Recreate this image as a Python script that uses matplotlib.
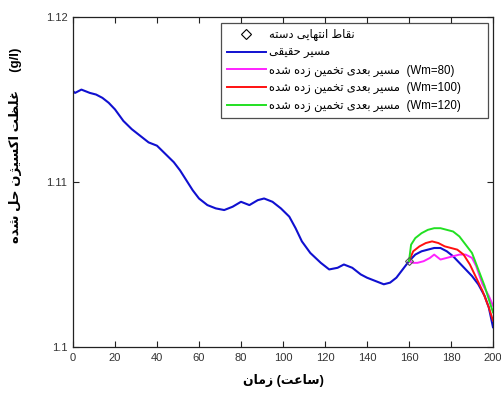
import matplotlib

matplotlib.use("Agg")
import matplotlib.pyplot as plt
from matplotlib.lines import Line2D

# ---- data -------------------------------------------------------------
TIME_TRUE = [0, 1, 4, 8, 11, 14, 17, 20, 24, 28, 32, 36, 40, 44, 48, 51, 54, 57,
             60, 64, 68, 72, 76, 80, 84, 88, 91, 95, 99, 103, 106, 109, 113, 118,
             122, 126, 129, 133, 137, 140, 144, 148, 151, 154, 157, 160, 163, 166,
             169, 172, 175, 178, 181, 184, 187, 190, 193, 196, 198, 200]
DO_TRUE = [1.1155, 1.1154, 1.1156, 1.1154, 1.1153, 1.1151, 1.1148, 1.1144, 1.1137,
           1.1132, 1.1128, 1.1124, 1.1122, 1.1117, 1.1112, 1.1107, 1.1101, 1.1095,
           1.1090, 1.1086, 1.1084, 1.1083, 1.1085, 1.1088, 1.1086, 1.1089, 1.1090,
           1.1088, 1.1084, 1.1079, 1.1072, 1.1064, 1.1057, 1.1051, 1.1047, 1.1048,
           1.1050, 1.1048, 1.1044, 1.1042, 1.1040, 1.1038, 1.1039, 1.1042, 1.1047,
           1.1052, 1.1056, 1.1058, 1.1059, 1.1060, 1.1060, 1.1058, 1.1055, 1.1051,
           1.1047, 1.1043, 1.1038, 1.1031, 1.1024, 1.1012]

TIME_WM80 = [160, 162, 164, 167, 170, 172, 175, 178, 181, 184, 187, 190, 192, 195, 198, 200]
DO_WM80 = [1.1052, 1.1051, 1.1051, 1.1052, 1.1054, 1.1056, 1.1053, 1.1054, 1.1055,
           1.1056, 1.1056, 1.1054, 1.1049, 1.1038, 1.1031, 1.1025]

TIME_WM100 = [160, 162, 165, 168, 171, 174, 177, 180, 183, 186, 189, 192, 195, 198, 200]
DO_WM100 = [1.1052, 1.1058, 1.1061, 1.1063, 1.1064, 1.1063, 1.1061, 1.1060, 1.1059,
            1.1056, 1.1050, 1.1042, 1.1034, 1.1024, 1.1016]

TIME_WM120 = [160, 161, 163, 166, 169, 172, 175, 178, 181, 184, 187, 190, 193, 196, 198, 200]
DO_WM120 = [1.1052, 1.1062, 1.1066, 1.1069, 1.1071, 1.1072, 1.1072, 1.1071, 1.1070,
            1.1067, 1.1062, 1.1057, 1.1047, 1.1037, 1.1029, 1.1021]

BATCH_END_TIME = [160]
BATCH_END_DO = [1.1052]

X_TICKS = [0, 20, 40, 60, 80, 100, 120, 140, 160, 180, 200]
Y_TICKS = [1.10, 1.11, 1.12]
Y_TICK_LABELS = ["1.1", "1.11", "1.12"]

LABEL_END = "نقاط انتهایی دسته"
LABEL_TRUE = "مسیر حقیقی"
LABEL_NEXT = "مسیر بعدی تخمین زده شده"
X_LABEL_WORD = "زمان"
X_LABEL_UNIT = "ساعت"
Y_LABEL = "غلظت اکسیژن حل شده"

BLUE = "#1010d0"
MAGENTA = "#ff22ff"
RED = "#ff1010"
GREEN = "#22e022"

# ---- minimal Persian shaping (matplotlib has no bidi / joining) -------
# forms: isolated, final, initial, medial
DUAL = {
    "ب": (0xFE8F, 0xFE90, 0xFE91, 0xFE92), "ت": (0xFE95, 0xFE96, 0xFE97, 0xFE98),
    "ج": (0xFE9D, 0xFE9E, 0xFE9F, 0xFEA0), "ح": (0xFEA1, 0xFEA2, 0xFEA3, 0xFEA4),
    "خ": (0xFEA5, 0xFEA6, 0xFEA7, 0xFEA8), "س": (0xFEB1, 0xFEB2, 0xFEB3, 0xFEB4),
    "ش": (0xFEB5, 0xFEB6, 0xFEB7, 0xFEB8), "ط": (0xFEC1, 0xFEC2, 0xFEC3, 0xFEC4),
    "ظ": (0xFEC5, 0xFEC6, 0xFEC7, 0xFEC8), "ع": (0xFEC9, 0xFECA, 0xFECB, 0xFECC),
    "غ": (0xFECD, 0xFECE, 0xFECF, 0xFED0), "ف": (0xFED1, 0xFED2, 0xFED3, 0xFED4),
    "ق": (0xFED5, 0xFED6, 0xFED7, 0xFED8), "ل": (0xFEDD, 0xFEDE, 0xFEDF, 0xFEE0),
    "م": (0xFEE1, 0xFEE2, 0xFEE3, 0xFEE4), "ن": (0xFEE5, 0xFEE6, 0xFEE7, 0xFEE8),
    "ه": (0xFEE9, 0xFEEA, 0xFEEB, 0xFEEC), "ی": (0xFBFC, 0xFBFD, 0xFBFE, 0xFBFF),
    "ک": (0xFB8E, 0xFB8F, 0xFB90, 0xFB91),
}
RIGHT = {
    "ا": (0xFE8D, 0xFE8E), "د": (0xFEA9, 0xFEAA), "ذ": (0xFEAB, 0xFEAC),
    "ر": (0xFEAD, 0xFEAE), "ز": (0xFEAF, 0xFEB0), "ژ": (0xFB8A, 0xFB8B),
    "و": (0xFEED, 0xFEEE),
}


def fa(text: str) -> str:
    """Shape Persian letters and return them in visual (left-to-right) order."""
    out = []
    for i, ch in enumerate(text):
        prev = text[i - 1] if i > 0 else ""
        nxt = text[i + 1] if i + 1 < len(text) else ""
        joins_prev = prev in DUAL
        if ch in DUAL:
            joins_next = nxt in DUAL or nxt in RIGHT
            if joins_prev and joins_next:
                form = DUAL[ch][3]
            elif joins_next:
                form = DUAL[ch][2]
            elif joins_prev:
                form = DUAL[ch][1]
            else:
                form = DUAL[ch][0]
            out.append(chr(form))
        elif ch in RIGHT:
            out.append(chr(RIGHT[ch][1 if joins_prev else 0]))
        else:
            out.append(ch)
    return "".join(out)[::-1]


plt.rcParams["font.family"] = ["Liberation Sans", "DejaVu Sans"]
plt.rcParams["font.size"] = 8

fig = plt.figure(figsize=(5.01, 4.01), dpi=100)
ax = fig.add_axes([0.1457, 0.1347, 0.8383, 0.8229])

ax.plot(TIME_TRUE, DO_TRUE, color=BLUE, linewidth=1.5)
ax.plot(TIME_WM80, DO_WM80, color=MAGENTA, linewidth=1.4)
ax.plot(TIME_WM100, DO_WM100, color=RED, linewidth=1.4)
ax.plot(TIME_WM120, DO_WM120, color=GREEN, linewidth=1.4)
ax.plot(BATCH_END_TIME, BATCH_END_DO, linestyle="none", marker="D", markersize=4,
        markerfacecolor="none", markeredgecolor="#555555", markeredgewidth=0.8)

ax.set_xlim(0, 200)
ax.set_ylim(1.10, 1.12)
ax.set_xticks(X_TICKS)
ax.set_yticks(Y_TICKS)
ax.set_yticklabels(Y_TICK_LABELS)
ax.tick_params(direction="in", top=True, right=True, length=4, width=0.8,
               colors="#222222", labelcolor="#333333", labelsize=8, pad=4)
for spine in ax.spines.values():
    spine.set_color("#222222")
    spine.set_linewidth(0.9)

ax.set_xlabel(fa(X_LABEL_WORD) + " (" + fa(X_LABEL_UNIT) + ")", fontsize=9,
              fontweight="bold", labelpad=8)
ax.set_ylabel(fa(Y_LABEL) + "     (g/l)", fontsize=9.5, fontweight="bold")
ax.yaxis.set_label_coords(-0.121, 0.61)

handles = [
    Line2D([], [], linestyle="none", marker="D", markersize=5, markerfacecolor="none",
           markeredgecolor="black", markeredgewidth=0.8),
    Line2D([], [], color=BLUE, linewidth=1.4),
    Line2D([], [], color=MAGENTA, linewidth=1.4),
    Line2D([], [], color=RED, linewidth=1.4),
    Line2D([], [], color=GREEN, linewidth=1.4),
]
labels = [
    fa(LABEL_END),
    fa(LABEL_TRUE),
    fa(LABEL_NEXT) + "  (Wm=80)",
    fa(LABEL_NEXT) + "  (Wm=100)",
    fa(LABEL_NEXT) + "  (Wm=120)",
]
leg = ax.legend(handles, labels, loc="upper left",
                bbox_to_anchor=(0.352, 0.70, 0.636, 0.282), mode="expand",
                fontsize=8.3, frameon=True, fancybox=False, edgecolor="#222222",
                handlelength=3.4, handletextpad=0.3, labelspacing=0.5,
                borderpad=0.5, borderaxespad=0.0)
leg.get_frame().set_linewidth(0.9)

fig.savefig("out.png", dpi=100)
